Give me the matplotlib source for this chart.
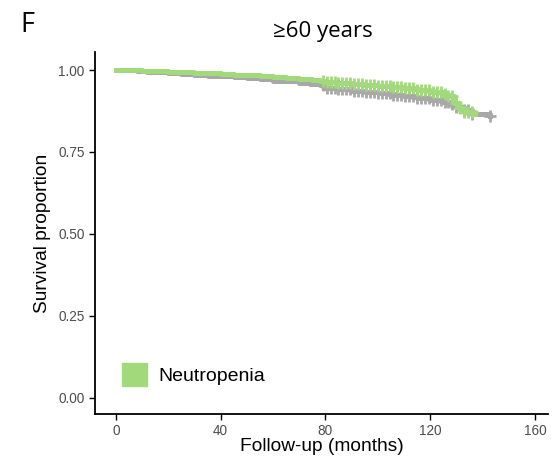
import numpy as np
import matplotlib.pyplot as plt
from matplotlib.patches import Patch

plt.rcParams['font.family'] = ['Liberation Sans', 'DejaVu Sans']

# reference group (grey) Kaplan-Meier steps
t_ref = [0, 4, 8, 12, 16, 20, 25, 30, 35, 40, 45, 50, 55, 60, 65, 70, 74, 78,
         80, 85, 90, 95, 100, 105, 110, 115, 120, 125, 128, 130, 133, 136, 143]
s_ref = [1.0, 0.999, 0.997, 0.995, 0.993, 0.991, 0.988, 0.986, 0.983, 0.981,
         0.978, 0.975, 0.972, 0.968, 0.965, 0.961, 0.958, 0.955, 0.945, 0.941,
         0.937, 0.933, 0.929, 0.925, 0.920, 0.915, 0.909, 0.901, 0.895, 0.888,
         0.878, 0.865, 0.861]
c_ref = [79, 80.5, 82, 83.5, 85, 86.5, 88, 89.5, 91, 92.5, 94, 95.5, 97, 98.5,
         100, 101.5, 103, 104.5, 106, 107.5, 109, 110.5, 112, 113.5, 115, 116.5,
         118, 119.5, 121, 122.5, 124, 125.5, 127, 128.5, 130, 131.5, 133, 134.5,
         136, 143]

# neutropenia group (green)
t_neu = [0, 5, 10, 15, 20, 25, 30, 35, 40, 45, 50, 55, 60, 65, 70, 75, 78,
         80, 85, 90, 95, 100, 105, 110, 115, 120, 125, 127, 129, 131, 133, 137]
s_neu = [1.0, 0.999, 0.998, 0.997, 0.995, 0.994, 0.992, 0.990, 0.988, 0.986,
         0.984, 0.981, 0.978, 0.975, 0.972, 0.969, 0.967, 0.963, 0.960, 0.957,
         0.954, 0.951, 0.947, 0.944, 0.939, 0.934, 0.928, 0.92, 0.90, 0.885,
         0.872, 0.865]
c_neu = [79, 80.5, 82, 83.5, 85, 86.5, 88, 89.5, 91, 92.5, 94, 95.5, 97, 98.5,
         100, 101.5, 103, 104.5, 106, 107.5, 109, 110.5, 112, 113.5, 115, 116.5,
         118, 119.5, 121, 122.5, 124, 125.5, 127, 128.5, 130, 131.5, 133, 134.5,
         136]

grey = '#a8a8a8'
green = '#a2d97b'

fig = plt.figure(figsize=(5.53, 4.59), dpi=100)
ax = fig.add_axes([0.1718, 0.098, 0.819, 0.7887])


def surv_at(times, surv, c):
    idx = np.searchsorted(times, c, side='right') - 1
    return np.array(surv)[idx]


for t, s, c, col in [(t_ref, s_ref, c_ref, grey), (t_neu, s_neu, c_neu, green)]:
    ax.step(t, s, where='post', color=col, lw=3.6)
    ax.plot(c, surv_at(t, s, c), '+', color=col, ms=9, mew=2)

ax.set_xlim(-8, 165)
ax.set_ylim(-0.05, 1.055)
ax.set_xticks([0, 40, 80, 120, 160])
ax.set_yticks([0, 0.25, 0.5, 0.75, 1.0])
ax.set_yticklabels(['0.00', '0.25', '0.50', '0.75', '1.00'])
ax.tick_params(labelsize=9.8, labelcolor='#4d4d4d', length=4, width=1)
for sp in ['top', 'right']:
    ax.spines[sp].set_visible(False)
for sp in ['left', 'bottom']:
    ax.spines[sp].set_linewidth(1.3)

ax.set_xlabel('Follow-up (months)', fontsize=13.8, labelpad=0)
ax.set_ylabel('Survival proportion', fontsize=13.8, labelpad=5)

ax.legend(handles=[Patch(color=green, label='Neutropenia')],
          loc='lower left', bbox_to_anchor=(0.02, 0.03), frameon=False,
          fontsize=14, handlelength=1.29, handleheight=1.4, handletextpad=0.6)

fig.text(0.037, 0.93, 'F', fontsize=19.5, family='Open Sans')
fig.text(0.584, 0.92, '≥60 years', fontsize=16, ha='center', family='Open Sans')

fig.savefig('out.png', dpi=100)
